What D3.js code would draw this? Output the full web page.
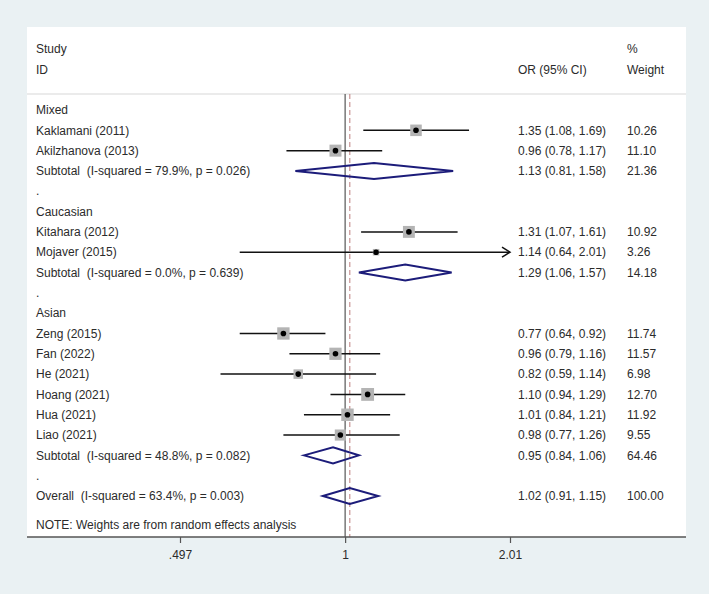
<!DOCTYPE html>
<html>
<head>
<meta charset="utf-8">
<script src="https://cdn.jsdelivr.net/npm/d3@7"></script>
<style>
  html, body { margin: 0; padding: 0; background: #eaf1f3; }
  svg { display: block; }
  text { font-family: "Liberation Sans", Arial, sans-serif; font-size: 12px; fill: #2b2b2b; white-space: pre; }
</style>
</head>
<body>
<svg id="chart" width="709" height="594"></svg>
<script>
// ---- data ----
const groupNames = ["Mixed", "Caucasian", "Asian"];
const studyNames = ["Kaklamani (2011)", "Akilzhanova (2013)", "Kitahara (2012)", "Mojaver (2015)",
  "Zeng (2015)", "Fan (2022)", "He (2021)", "Hoang (2021)", "Hua (2021)", "Liao (2021)"];
const studyGroup = [0, 0, 1, 1, 2, 2, 2, 2, 2, 2];
const studyOR = [1.35, 0.96, 1.31, 1.14, 0.77, 0.96, 0.82, 1.10, 1.01, 0.98];
const studyLo = [1.08, 0.78, 1.07, 0.64, 0.64, 0.79, 0.59, 0.94, 0.84, 0.77];
const studyHi = [1.69, 1.17, 1.61, 2.01, 0.92, 1.16, 1.14, 1.29, 1.21, 1.26];
const studyWeight = [10.26, 11.10, 10.92, 3.26, 11.74, 11.57, 6.98, 12.70, 11.92, 9.55];
const subI2 = ["79.9%", "0.0%", "48.8%"];
const subP = ["0.026", "0.639", "0.082"];
const subOR = [1.13, 1.29, 0.95];
const subLo = [0.81, 1.06, 0.84];
const subHi = [1.58, 1.57, 1.06];
const subWeight = [21.36, 14.18, 64.46];
const overallOR = 1.02, overallLo = 0.91, overallHi = 1.15, overallWeight = 100.00;
const overallI2 = "63.4%", overallP = "0.003";
const tickValues = [0.497, 1, 2.01];
const tickLabels = [".497", "1", "2.01"];
const noteText = "NOTE: Weights are from random effects analysis";

// ---- build rows ----
const rows = [];
groupNames.forEach((g, gi) => {
  rows.push({type: "group", label: g});
  studyNames.forEach((s, i) => {
    if (studyGroup[i] === gi) rows.push({type: "study", label: s, or: studyOR[i], lo: studyLo[i], hi: studyHi[i], w: studyWeight[i]});
  });
  rows.push({type: "sub", label: `Subtotal  (I-squared = ${subI2[gi]}, p = ${subP[gi]})`, or: subOR[gi], lo: subLo[gi], hi: subHi[gi], w: subWeight[gi]});
  rows.push({type: "dot", label: "."});
});
rows.push({type: "sub", label: `Overall  (I-squared = ${overallI2}, p = ${overallP})`, or: overallOR, lo: overallLo, hi: overallHi, w: overallWeight});

const svg = d3.select("#chart");
const boxL = 27, boxR = 686, boxT = 27, axisY = 537, sepY = 94;

svg.append("rect").attr("x", boxL).attr("y", boxT).attr("width", boxR - boxL).attr("height", axisY - boxT).attr("fill", "#ffffff");

const x = d3.scaleLog().domain([tickValues[0], tickValues[2]]).range([180, 510]);
const y = d3.scaleLinear().domain([0, rows.length - 1]).range([110, 496]);

// header
const labX = 36, orX = 518, wX = 627;
svg.append("text").attr("x", labX).attr("y", 49).attr("dy", "0.35em").text("Study");
svg.append("text").attr("x", labX).attr("y", 70).attr("dy", "0.35em").text("ID");
svg.append("text").attr("x", orX).attr("y", 70).attr("dy", "0.35em").text("OR (95% CI)");
svg.append("text").attr("x", wX).attr("y", 49).attr("dy", "0.35em").text("%");
svg.append("text").attr("x", wX).attr("y", 70).attr("dy", "0.35em").text("Weight");
svg.append("line").attr("x1", boxL).attr("x2", boxR).attr("y1", sepY).attr("y2", sepY).attr("stroke", "#d8d8d8").attr("stroke-width", 1.2);

// reference lines
svg.append("line").attr("x1", x(1)).attr("x2", x(1)).attr("y1", sepY).attr("y2", axisY).attr("stroke", "#555").attr("stroke-width", 1.2);
svg.append("line").attr("x1", x(overallOR)).attr("x2", x(overallOR)).attr("y1", sepY).attr("y2", axisY)
  .attr("stroke", "#c48a8a").attr("stroke-width", 1.1).attr("stroke-dasharray", "5,3");

const fmt = d3.format(".2f");
rows.forEach((r, i) => {
  const yy = y(i);
  svg.append("text").attr("x", labX).attr("y", yy).attr("dy", "0.35em")
    .attr("fill", r.type === "dot" ? "#aaa" : "#2b2b2b").text(r.label);
  if (r.type === "study") {
    const xmax = x.domain()[1];
    const hiC = Math.min(r.hi, xmax);
    svg.append("line").attr("x1", x(r.lo)).attr("x2", x(hiC)).attr("y1", yy).attr("y2", yy).attr("stroke", "#111").attr("stroke-width", 1.5);
    if (r.hi >= xmax) {
      const ax = x(xmax);
      svg.append("path").attr("d", `M${ax - 8},${yy - 5} L${ax},${yy} L${ax - 8},${yy + 5}`).attr("fill", "none").attr("stroke", "#111").attr("stroke-width", 1.5);
    }
    const s = 3.6 * Math.sqrt(r.w);
    svg.append("rect").attr("x", x(r.or) - s / 2).attr("y", yy - s / 2).attr("width", s).attr("height", s).attr("fill", "#b4b4b4");
    svg.append("circle").attr("cx", x(r.or)).attr("cy", yy).attr("r", 2.8).attr("fill", "#000");
  }
  if (r.type === "sub") {
    const h = 8;
    svg.append("path").attr("d", `M${x(r.lo)},${yy} L${x(r.or)},${yy - h} L${x(r.hi)},${yy} L${x(r.or)},${yy + h} Z`)
      .attr("fill", "none").attr("stroke", "#1c1c7a").attr("stroke-width", 2);
  }
  if (r.type === "study" || r.type === "sub") {
    svg.append("text").attr("x", orX).attr("y", yy).attr("dy", "0.35em").text(`${fmt(r.or)} (${fmt(r.lo)}, ${fmt(r.hi)})`);
    svg.append("text").attr("x", wX).attr("y", yy).attr("dy", "0.35em").text(fmt(r.w));
  }
});

// note
svg.append("text").attr("x", labX).attr("y", 525).attr("dy", "0.35em").text(noteText);

// axis
const axis = d3.axisBottom(x).tickValues(tickValues).tickFormat((d, i) => tickLabels[i]).tickSize(6).tickPadding(7);
const ag = svg.append("g").attr("transform", `translate(0,${axisY})`).call(axis);
ag.select(".domain").remove();
ag.selectAll(".tick line").attr("stroke", "#555").attr("stroke-width", 1.2);
ag.selectAll(".tick text").attr("font-family", null).attr("font-size", null).style("font-size", "12px").style("fill", "#2b2b2b");
svg.append("line").attr("x1", boxL).attr("x2", boxR).attr("y1", axisY).attr("y2", axisY).attr("stroke", "#555").attr("stroke-width", 1.3);
</script>
</body>
</html>
